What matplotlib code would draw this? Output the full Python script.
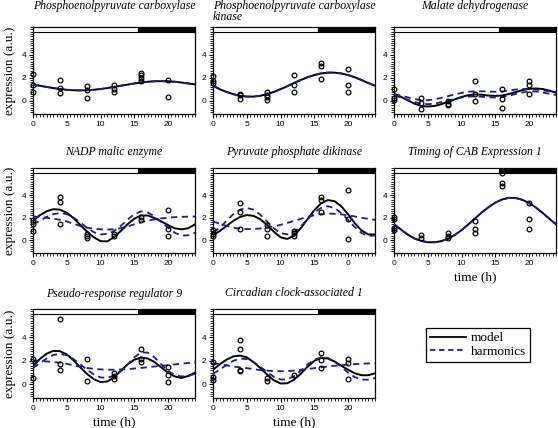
import matplotlib
matplotlib.use('Agg')
import numpy as np
import matplotlib.pyplot as plt
from matplotlib.lines import Line2D
from matplotlib.patches import Rectangle
from matplotlib.ticker import MultipleLocator

# czas (h) dla krzywych i punktow
t_curve = list(range(0, 25))
t_obs = [0, 4, 8, 12, 16, 20]

# --- Phosphoenolpyruvate carboxylase
pepc_obs = [[2.34, 1.40, 0.77], [1.77, 1.11, 0.69], [1.26, 0.91, 0.20],
            [1.34, 1.06, 0.80], [2.40, 2.20, 2.00, 1.71], [1.77, 0.29]]
pepc_model = [1.40, 1.30, 1.20, 1.10, 1.02, 0.95, 0.91, 0.90, 0.91, 0.95, 1.02, 1.10, 1.20,
              1.30, 1.40, 1.50, 1.58, 1.65, 1.69, 1.70, 1.69, 1.65, 1.58, 1.50, 1.42]

# --- Phosphoenolpyruvate carboxylase kinase
ppck_obs = [[2.15, 1.75, 1.55], [0.60, 0.52, 0.17], [0.80, 0.52, 0.32, 0.10],
            [2.26, 1.33, 0.80], [3.27, 2.99, 1.91], [2.78, 1.39, 0.80]]
ppck_model = [1.32, 1.00, 0.76, 0.57, 0.43, 0.36, 0.36, 0.43, 0.57, 0.76, 1.00, 1.26, 1.54,
              1.80, 2.04, 2.23, 2.37, 2.44, 2.44, 2.37, 2.23, 2.04, 1.80, 1.54, 1.30]

# --- Malate dehydrogenase
mdh_obs = [[1.06, 0.24, 0.06], [0.24, -0.20, -0.70], [0.00, -0.24, -0.40],
           [1.70, 0.59, -0.06], [1.06, 0.18, -0.59], [1.70, 1.41, 0.62]]
mdh_model = [0.60, 0.35, 0.05, -0.25, -0.45, -0.50, -0.45, -0.30, -0.10, 0.12, 0.33, 0.48, 0.55,
             0.52, 0.45, 0.42, 0.45, 0.58, 0.75, 0.92, 1.03, 1.07, 1.02, 0.88, 0.70]
mdh_harm_a = [0.55, 0.45, 0.30, 0.15, 0.05, 0.05, 0.12, 0.25, 0.40, 0.55, 0.68, 0.78, 0.82,
              0.82, 0.80, 0.78, 0.80, 0.88, 0.97, 1.02, 1.02, 0.97, 0.90, 0.82, 0.75]
mdh_harm_b = [0.45, 0.30, 0.10, -0.10, -0.25, -0.30, -0.25, -0.12, 0.02, 0.15, 0.28, 0.36, 0.38,
              0.35, 0.30, 0.28, 0.32, 0.42, 0.58, 0.72, 0.80, 0.80, 0.72, 0.60, 0.50]

# --- NADP malic enzyme
nadp_obs = [[1.74, 1.45, 0.81], [3.86, 3.39, 1.45], [0.58, 0.35, 0.14],
            [0.58, 0.38], [2.06, 1.74], [2.70, 1.01, 0.38]]
nadp_model = [1.70, 2.20, 2.55, 2.74, 2.70, 2.42, 1.95, 1.35, 0.75, 0.25, -0.10, -0.12, 0.25,
              0.80, 1.40, 1.90, 2.18, 2.18, 1.95, 1.65, 1.33, 1.05, 0.95, 1.05, 1.40]
nadp_harm_a = [1.40, 1.70, 2.05, 2.30, 2.40, 2.30, 2.00, 1.55, 1.10, 0.70, 0.50, 0.55, 0.80,
               1.25, 1.80, 2.30, 2.55, 2.45, 2.10, 1.60, 1.10, 0.65, 0.40, 0.42, 0.65]
nadp_harm_b = [2.10, 2.05, 1.98, 1.90, 1.80, 1.65, 1.45, 1.25, 1.10, 1.00, 0.95, 0.93, 0.96,
               1.05, 1.20, 1.40, 1.58, 1.72, 1.83, 1.92, 1.98, 2.03, 2.06, 2.08, 2.10]

# --- Pyruvate phosphate dikinase
ppdk_obs = [[0.90, 0.52, 0.32], [3.28, 2.46, 0.96], [1.30, 1.01, 0.32],
            [0.81, 0.61, 0.38], [3.86, 3.57, 2.46], [4.43, 1.83, 0.09]]
ppdk_model = [0.45, 0.80, 1.25, 1.70, 2.05, 2.22, 2.15, 1.85, 1.35, 0.75, 0.25, 0.10, 0.40,
              1.05, 1.85, 2.65, 3.25, 3.55, 3.45, 3.00, 2.30, 1.50, 0.85, 0.50, 0.50]
ppdk_harm_a = [0.70, 1.10, 1.70, 2.30, 2.70, 2.85, 2.70, 2.25, 1.65, 1.05, 0.62, 0.50, 0.70,
               1.20, 1.85, 2.45, 2.85, 3.00, 2.85, 2.40, 1.80, 1.15, 0.62, 0.38, 0.40]
ppdk_harm_b = [1.65, 1.45, 1.25, 1.10, 1.00, 0.97, 0.98, 1.03, 1.10, 1.20, 1.35, 1.52, 1.70,
               1.88, 2.05, 2.20, 2.30, 2.35, 2.33, 2.28, 2.20, 2.10, 1.98, 1.88, 1.80]

# --- Timing of CAB Expression 1
toc1_obs = [[2.06, 1.83, 1.10, 0.90], [0.43, 0.20], [0.67, 0.38, 0.17],
            [1.68, 0.96, 0.61], [5.97, 5.10, 4.81], [3.33, 1.83, 0.96]]
toc1_model = [1.40, 0.95, 0.50, 0.15, -0.07, -0.19, -0.20, -0.10, 0.12, 0.45, 0.88, 1.38, 1.92,
              2.45, 2.92, 3.32, 3.60, 3.75, 3.74, 3.58, 3.30, 2.90, 2.42, 1.90, 1.40]

# --- Pseudo-response regulator 9
prr9_obs = [[2.17, 0.52], [5.57, 1.74, 1.22], [2.12, 0.29],
            [1.01, 0.72, 0.49], [3.04, 2.17, 1.88], [1.45, 0.81, 0.23]]
prr9_model = [1.55, 2.15, 2.60, 2.85, 2.82, 2.55, 2.05, 1.45, 0.90, 0.45, 0.20, 0.25, 0.60,
              1.15, 1.70, 2.10, 2.28, 2.20, 1.90, 1.45, 1.00, 0.68, 0.55, 0.72, 1.00]
prr9_harm_a = [1.40, 1.80, 2.20, 2.50, 2.60, 2.48, 2.15, 1.70, 1.25, 0.85, 0.60, 0.55, 0.75,
               1.15, 1.70, 2.30, 2.72, 2.70, 2.30, 1.70, 1.15, 0.80, 0.68, 0.72, 0.90]
prr9_harm_b = [2.05, 2.00, 1.95, 1.90, 1.85, 1.75, 1.62, 1.50, 1.40, 1.32, 1.28, 1.25, 1.25,
               1.27, 1.30, 1.35, 1.40, 1.46, 1.52, 1.58, 1.63, 1.70, 1.76, 1.82, 1.87]

# --- Circadian clock-associated 1
cca1_obs = [[1.91, 0.59, 0.38], [3.76, 3.03, 1.26, 1.18], [0.53, 0.32],
            [0.82], [2.65, 2.09, 1.41], [2.20, 1.79, 0.44]]
cca1_model = [1.25, 1.70, 2.10, 2.38, 2.45, 2.30, 1.90, 1.40, 0.85, 0.35, 0.08, 0.10, 0.40,
              0.90, 1.50, 2.00, 2.25, 2.20, 1.95, 1.60, 1.25, 0.95, 0.78, 0.78, 0.95]
cca1_harm_a = [0.90, 1.25, 1.65, 2.00, 2.20, 2.15, 1.90, 1.50, 1.05, 0.65, 0.42, 0.42, 0.70,
               1.15, 1.70, 2.10, 2.30, 2.25, 1.95, 1.50, 1.00, 0.62, 0.42, 0.40, 0.55]
cca1_harm_b = [1.80, 1.72, 1.62, 1.52, 1.45, 1.38, 1.30, 1.22, 1.17, 1.13, 1.12, 1.13, 1.17,
               1.23, 1.30, 1.38, 1.45, 1.52, 1.58, 1.64, 1.68, 1.72, 1.76, 1.78, 1.80]

light_end = 15.5   # koniec dnia na pasku

panels = [
    ('Phosphoenolpyruvate carboxylase', pepc_obs, pepc_model, [pepc_model]),
    ('Phosphoenolpyruvate carboxylase\nkinase', ppck_obs, ppck_model, [ppck_model]),
    ('Malate dehydrogenase', mdh_obs, mdh_model, [mdh_harm_a, mdh_harm_b]),
    ('NADP malic enzyme', nadp_obs, nadp_model, [nadp_harm_a, nadp_harm_b]),
    ('Pyruvate phosphate dikinase', ppdk_obs, ppdk_model, [ppdk_harm_a, ppdk_harm_b]),
    ('Timing of CAB Expression 1', toc1_obs, toc1_model, [toc1_model]),
    ('Pseudo-response regulator 9', prr9_obs, prr9_model, [prr9_harm_a, prr9_harm_b]),
    ('Circadian clock-associated 1', cca1_obs, cca1_model, [cca1_harm_a, cca1_harm_b]),
]

navy = '#1f1f78'
serif = 'Liberation Serif'
plt.rcParams['font.family'] = 'Liberation Sans'

W, H = 558, 428
fig = plt.figure(figsize=(W / 100, H / 100), dpi=100)

cols = [33, 213, 394]
rows = [(27, 114), (168, 253), (309, 398)]
aw = 162

for i, (name, obs, model, harms) in enumerate(panels):
    r, c = divmod(i, 3)
    top, bot = rows[r]
    ax = fig.add_axes([cols[c] / W, 1 - bot / H, aw / W, (bot - top) / H])
    ax.set_xlim(0, 24)
    ax.set_ylim(-1.15, 6.4)

    ax.plot(t_curve, model, color='black', lw=1.4, zorder=3)
    for h in harms:
        ax.plot(t_curve, h, color=navy, lw=1.3, ls=(0, (3.5, 2.5)), zorder=4)
    for t, vals in zip(t_obs, obs):
        ax.plot([t] * len(vals), vals, 'o', ms=3.4, mfc='none', mec='black',
                mew=0.9, clip_on=False, zorder=5)

    # pasek dzien/noc
    ax.add_patch(Rectangle((0, 6.0), light_end, 0.4, fc='white', ec='black', lw=0.8, zorder=6))
    ax.add_patch(Rectangle((light_end, 6.0), 24 - light_end, 0.4, fc='black', ec='black',
                           lw=0.8, zorder=6))

    ax.set_xticks([0, 5, 10, 15, 20])
    if i == 4:
        ax.set_xticklabels(['0', '5', '10', '15', '0'])
    ax.set_yticks([0, 2, 4])
    ax.xaxis.set_minor_locator(MultipleLocator(0.5))
    ax.yaxis.set_minor_locator(MultipleLocator(0.2))
    ax.tick_params(which='major', direction='out', length=3, width=0.8,
                   labelsize=6, pad=2, colors='black')
    ax.tick_params(which='minor', direction='out', length=2, width=0.6)
    for s in ax.spines.values():
        s.set_linewidth(0.9)

    if r == 0:
        pad = 5 if i == 1 else 13
    else:
        pad = 9
    ax.set_title(name, fontsize=8.5, family=serif, style='italic', pad=pad,
                 ma='left', linespacing=0.95)

    if c == 0:
        ax.set_ylabel('expression (a.u.)', fontsize=9.5, family=serif, labelpad=4)
    if r == 2 or i == 5:
        ax.set_xlabel('time (h)', fontsize=9.5, family=serif, labelpad=3)

handles = [Line2D([], [], color='black', lw=1.3),
           Line2D([], [], color=navy, lw=1.3, ls=(0, (3, 2)))]
leg = fig.legend(handles, ['model', 'harmonics'], loc='upper left',
                 bbox_to_anchor=(426 / W, 1 - 328 / H), fancybox=False, framealpha=1,
                 edgecolor='black', prop={'family': serif, 'size': 9.5},
                 handlelength=2.7, handletextpad=0.4, borderpad=0.3, labelspacing=0.1,
                 borderaxespad=0)
leg.get_frame().set_linewidth(0.9)

fig.savefig('out.png', dpi=100)
